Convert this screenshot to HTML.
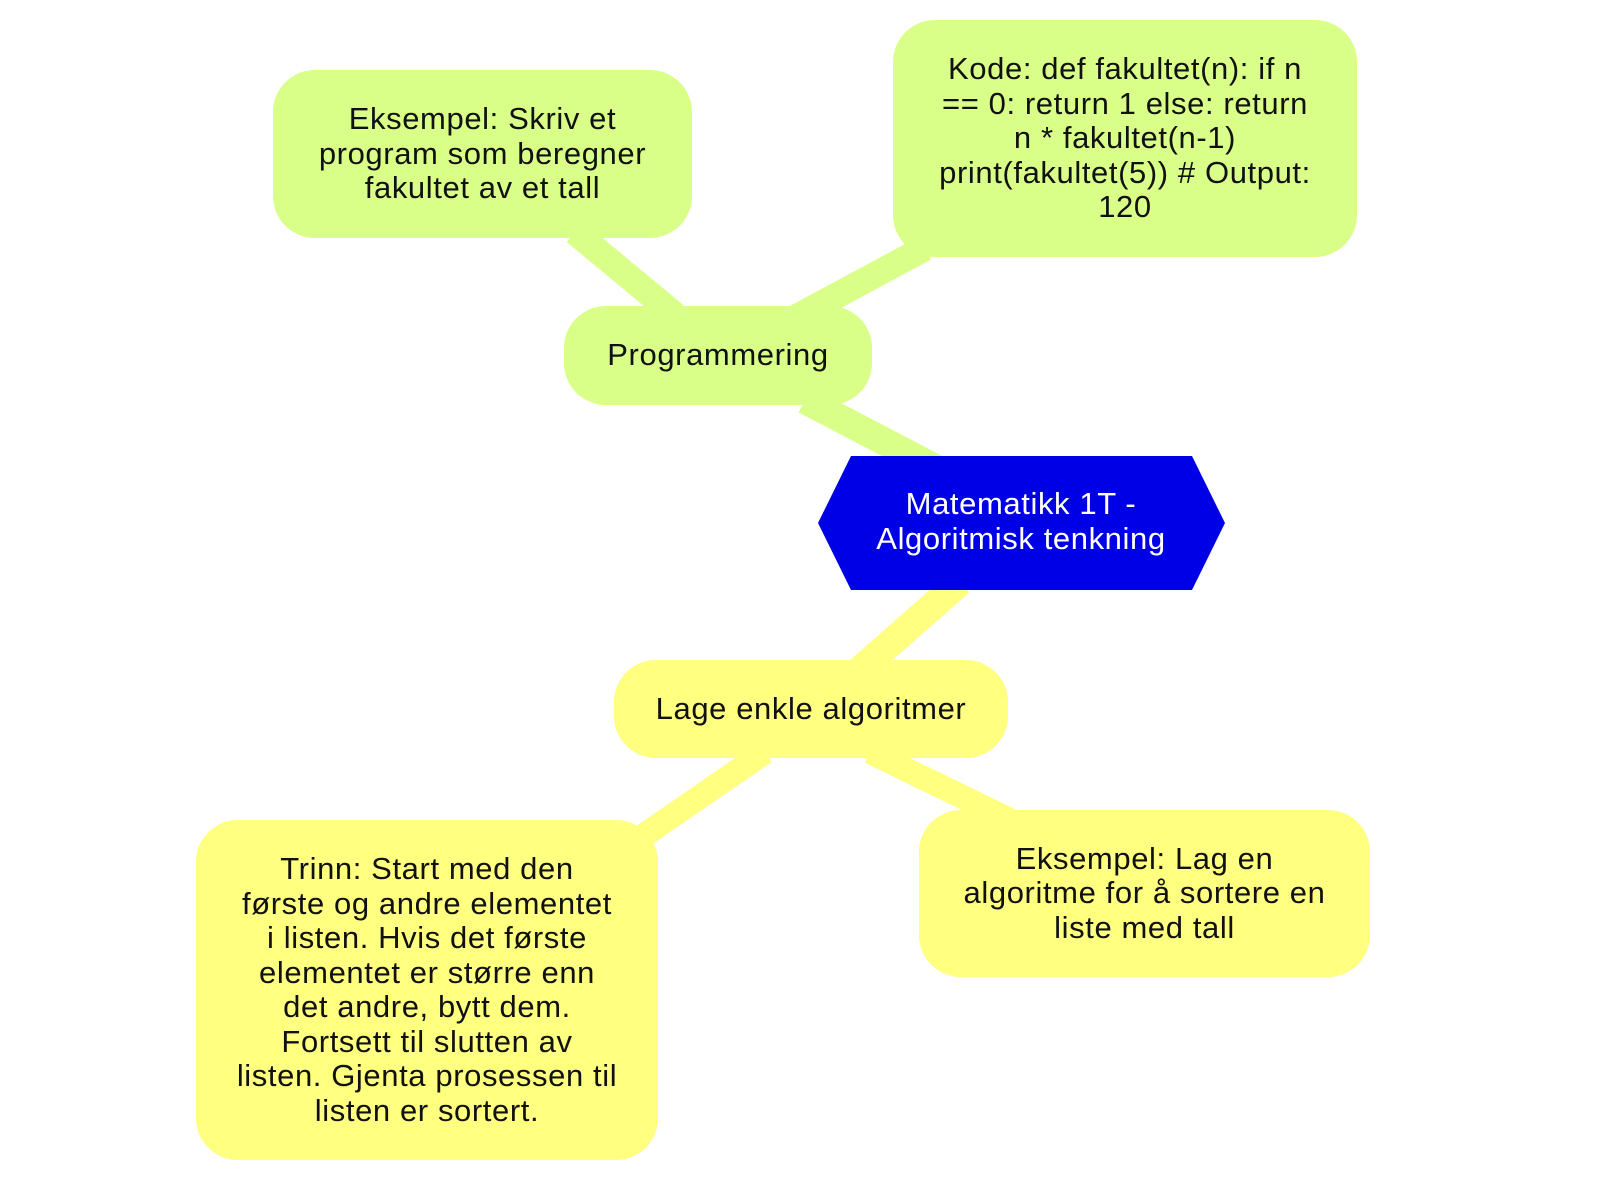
<!DOCTYPE html>
<html><head><meta charset="utf-8"><style>
body{margin:0;width:1600px;height:1204px;background:#fff;overflow:hidden;position:relative;font-family:"Liberation Sans","DejaVu Sans",sans-serif;}
svg{position:absolute;left:0;top:0}
.b{position:absolute;display:flex;align-items:center;justify-content:center;text-align:center;font-size:31px;line-height:34.5px;letter-spacing:0.6px;color:#111;border-radius:42px;box-sizing:border-box;white-space:nowrap}
.g{background:#d9ff88}.y{background:#ffff80}
</style></head><body>
<svg width="1600" height="1204">
<g stroke-linecap="butt">
<line x1="575" y1="232" x2="675" y2="315" stroke="#d9ff88" stroke-width="26"/>
<line x1="795" y1="318" x2="925" y2="248" stroke="#d9ff88" stroke-width="26"/>
<line x1="805" y1="400" x2="935" y2="468" stroke="#d9ff88" stroke-width="28"/>
<line x1="960" y1="582" x2="860" y2="670" stroke="#ffff80" stroke-width="28"/>
<line x1="765" y1="752" x2="640" y2="838" stroke="#ffff80" stroke-width="24"/>
<line x1="870" y1="752" x2="1010" y2="820" stroke="#ffff80" stroke-width="24"/>
</g>
</svg>
<div class="b g" style="left:273px;top:70px;width:419px;height:168px">Eksempel: Skriv et<br>program som beregner<br>fakultet av et tall</div>
<div class="b g" style="left:893px;top:20px;width:464px;height:237px">Kode: def fakultet(n): if n<br>== 0: return 1 else: return<br>n * fakultet(n-1)<br>print(fakultet(5)) # Output:<br>120</div>
<div class="b g" style="left:564px;top:306px;width:308px;height:99px">Programmering</div>
<svg width="1600" height="1204" style="pointer-events:none">
<polygon points="851,456 1192,456 1225,523 1192,590 851,590 818,523" fill="#0000e6"/>
<text x="1021" y="514" fill="#fff" font-size="31" letter-spacing="0.6" text-anchor="middle" font-family="Liberation Sans, sans-serif">Matematikk 1T -</text>
<text x="1021" y="549" fill="#fff" font-size="31" letter-spacing="0.6" text-anchor="middle" font-family="Liberation Sans, sans-serif">Algoritmisk tenkning</text>
</svg>
<div class="b y" style="left:614px;top:660px;width:394px;height:98px">Lage enkle algoritmer</div>
<div class="b y" style="left:196px;top:820px;width:462px;height:340px">Trinn: Start med den<br>første og andre elementet<br>i listen. Hvis det første<br>elementet er større enn<br>det andre, bytt dem.<br>Fortsett til slutten av<br>listen. Gjenta prosessen til<br>listen er sortert.</div>
<div class="b y" style="left:919px;top:810px;width:451px;height:167px">Eksempel: Lag en<br>algoritme for å sortere en<br>liste med tall</div>
</body></html>
